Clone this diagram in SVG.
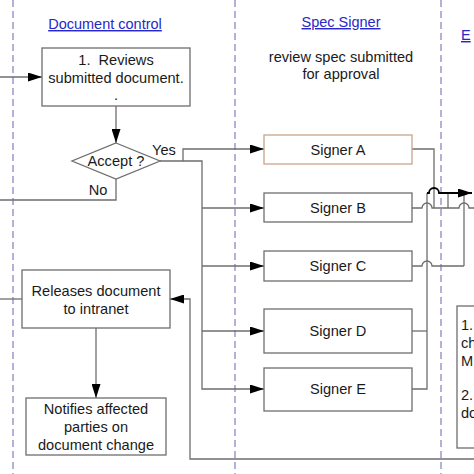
<svg xmlns="http://www.w3.org/2000/svg" width="474" height="474" viewBox="0 0 474 474">
<defs>
<marker id="ah" markerWidth="14" markerHeight="9" refX="14" refY="4.5" orient="auto" markerUnits="userSpaceOnUse">
<path d="M0,0 L14,4.5 L0,9 Z" fill="#000"/>
</marker>
<style>
.lane{stroke:#8080c0;stroke-width:1.2;stroke-dasharray:7,4;fill:none}
.box{fill:#fff;stroke:#6e6e6e;stroke-width:1.3}
.ln{fill:none;stroke:#6e6e6e;stroke-width:1.3}
.t{font-family:"Liberation Sans",Arial,sans-serif;font-size:14.6px;fill:#1a1a1a;text-anchor:middle}
.tl{font-family:"Liberation Sans",Arial,sans-serif;font-size:14.6px;fill:#1a1a1a}
.hd{font-family:"Liberation Sans",Arial,sans-serif;font-size:14.5px;fill:#2828c8;text-anchor:middle;text-decoration:underline}
</style>
</defs>
<rect width="474" height="474" fill="#fff"/>
<g id="lanes">
<line class="lane" x1="13" y1="0" x2="13" y2="474"/>
<line class="lane" x1="235" y1="0" x2="235" y2="474"/>
<line class="lane" x1="441" y1="0" x2="441" y2="474"/>
</g>
<g id="headers">
<text class="hd" x="105" y="29">Document control</text>
<text class="hd" x="341" y="27">Spec Signer</text>
<text class="hd" x="461" y="40" style="text-anchor:start">E</text>
<text class="t" x="341" y="62">review spec submitted</text>
<text class="t" x="341" y="79">for approval</text>
</g>
<g id="connectors">
<line class="ln" x1="0" y1="77" x2="42" y2="77" marker-end="url(#ah)"/>
<line class="ln" x1="116" y1="106" x2="116" y2="143" marker-end="url(#ah)"/>
<polyline class="ln" points="116,179 116,200 0,200"/>
<polyline class="ln" points="160,161 202,161 202,389 264,389" marker-end="url(#ah)"/>
<polyline class="ln" points="183,161 183,149 264,149" marker-end="url(#ah)"/>
<line class="ln" x1="202" y1="208" x2="264" y2="208" marker-end="url(#ah)"/>
<line class="ln" x1="202" y1="266" x2="264" y2="266" marker-end="url(#ah)"/>
<line class="ln" x1="202" y1="331" x2="264" y2="331" marker-end="url(#ah)"/>
<line class="ln" x1="0" y1="299" x2="22" y2="299"/>
<line class="ln" x1="96" y1="328" x2="96" y2="398" marker-end="url(#ah)"/>
<polyline class="ln" points="474,459 190,459 190,299 170,299" marker-end="url(#ah)"/>
<polyline class="ln" points="412,149 434,149 434,208"/>
<polyline class="ln" points="412,331 427,331"/>
<polyline class="ln" points="412,389 427,389 427,193"/>
<line class="ln" x1="448" y1="193" x2="448" y2="208"/>
<line class="ln" x1="464" y1="193" x2="464" y2="266"/>
<path class="ln" d="M412,208 H422 A5,5 0 0 1 432,208 H459 A5,5 0 0 1 469,208 H474"/>
<path class="ln" d="M412,266 H422 A5,5 0 0 1 432,266 H464"/>
<path d="M427,193 H429 A5,5 0 0 1 439,193 H472" fill="none" stroke="#000" stroke-width="1.8" marker-end="url(#ah)"/>
</g>
<g id="n1">
<rect class="box" x="42" y="48" width="148" height="58"/>
<text class="t" x="116" y="65">1.&#160; Reviews</text>
<text class="t" x="116" y="83">submitted document.</text>
<text class="t" x="116" y="100">.</text>
</g>
<g id="accept">
<polygon class="box" points="116,143 160,161 116,179 72,161"/>
<text class="t" x="116" y="166">Accept ?</text>
<text class="t" x="164" y="155">Yes</text>
<text class="t" x="98" y="195">No</text>
</g>
<g id="signerA">
<rect class="box" x="264" y="135" width="148" height="29" style="stroke:#c9a48a"/>
<text class="t" x="338" y="155">Signer A</text>
</g>
<g id="signerB">
<rect class="box" x="264" y="193" width="148" height="29"/>
<text class="t" x="338" y="213">Signer B</text>
</g>
<g id="signerC">
<rect class="box" x="264" y="251" width="148" height="30"/>
<text class="t" x="338" y="271">Signer C</text>
</g>
<g id="signerD">
<rect class="box" x="264" y="309" width="148" height="44"/>
<text class="t" x="338" y="336">Signer D</text>
</g>
<g id="signerE">
<rect class="box" x="264" y="368" width="148" height="43"/>
<text class="t" x="338" y="394">Signer E</text>
</g>
<g id="releases">
<rect class="box" x="22" y="270" width="148" height="58"/>
<text class="t" x="96" y="296">Releases document</text>
<text class="t" x="96" y="314">to intranet</text>
</g>
<g id="notifies">
<rect class="box" x="26" y="398" width="140" height="57"/>
<text class="t" x="96" y="414">Notifies affected</text>
<text class="t" x="96" y="432">parties on</text>
<text class="t" x="96" y="450">document change</text>
</g>
<g id="engbox">
<rect class="box" x="457" y="306" width="30" height="142"/>
<text class="tl" x="461" y="330">1.</text>
<text class="tl" x="461" y="348">ch</text>
<text class="tl" x="461" y="366">M</text>
<text class="tl" x="461" y="400">2.</text>
<text class="tl" x="461" y="418">do</text>
</g>
</svg>
